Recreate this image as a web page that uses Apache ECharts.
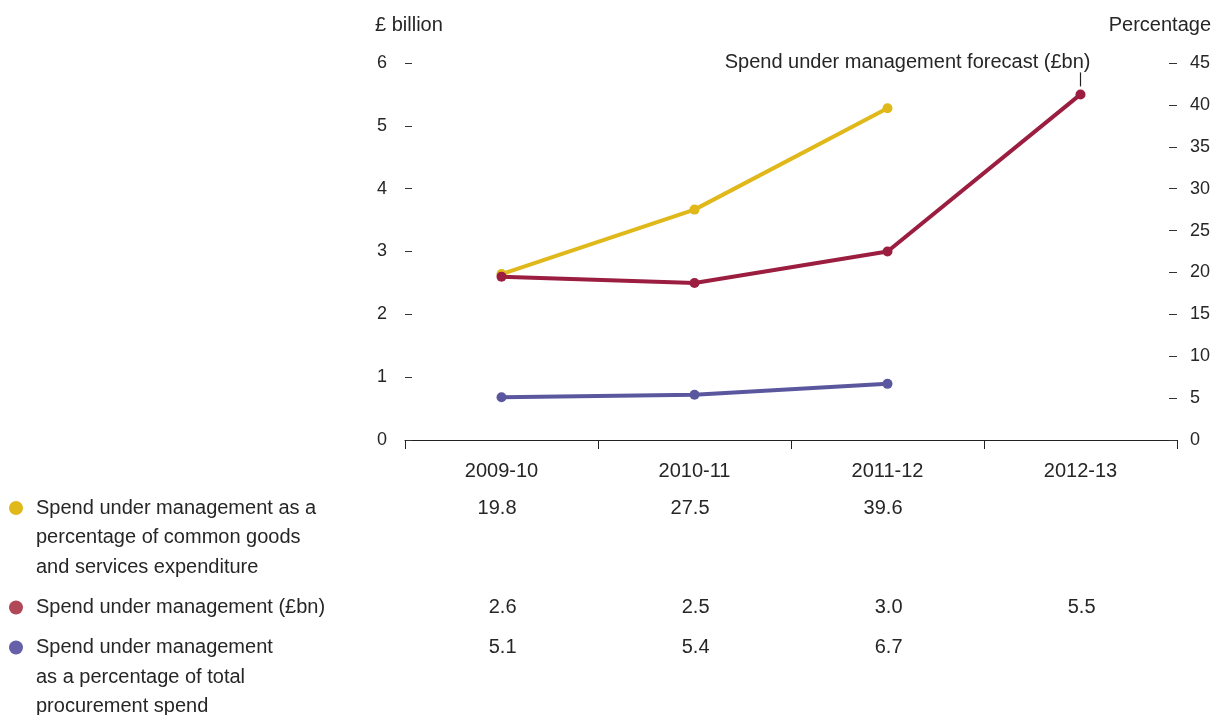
<!DOCTYPE html>
<html>
<head>
<meta charset="utf-8">
<script src="https://cdn.jsdelivr.net/npm/echarts@6/dist/echarts.min.js"></script>
<style>
  html, body { margin: 0; padding: 0; background: #fff; }
  #chart { width: 1214px; height: 715px; }
</style>
</head>
<body>
<div id="chart"></div>
<script>
// Financial years on the category axis
const categories = ['2009-10', '2010-11', '2011-12', '2012-13'];

// Spend under management as % of common goods and services expenditure (right axis)
const pctCommon = [19.8, 27.5, 39.6, null];
// Spend under management, £bn (left axis); 2012-13 is a forecast
const spendBn = [2.6, 2.5, 3.0, 5.5];
// Spend under management as % of total procurement spend (right axis)
const pctTotal = [5.1, 5.4, 6.7, null];

const leftTicks = [0, 1, 2, 3, 4, 5, 6];
const rightTicks = [0, 5, 10, 15, 20, 25, 30, 35, 40, 45];

const legendRows = [
  { lines: ['Spend under management as a', 'percentage of common goods', 'and services expenditure'], values: pctCommon, fmt: 1, dot: '#E0B81A' },
  { lines: ['Spend under management (£bn)'], values: spendBn, fmt: 1, dot: '#B04858' },
  { lines: ['Spend under management', 'as a percentage of total', 'procurement spend'], values: pctTotal, fmt: 1, dot: '#6560A8' }
];

const forecastNote = 'Spend under management forecast (£bn)';

const FONT = "'Liberation Sans', Arial, sans-serif";
const TXT = '#262626';

const chart = echarts.init(document.getElementById('chart'), null, { renderer: 'canvas' });

const option = {
  animation: false,
  backgroundColor: '#fff',
  grid: { left: 405, right: 37, top: 63, bottom: 275, containLabel: false },
  xAxis: {
    type: 'category',
    data: categories,
    boundaryGap: true,
    axisLine: { show: true, lineStyle: { color: '#222', width: 1 } },
    axisTick: { show: true, length: 9, lineStyle: { color: '#222' } },
    axisLabel: { color: TXT, fontFamily: FONT, fontSize: 20, margin: 21 },
    splitLine: { show: false }
  },
  yAxis: [
    {
      type: 'value', min: 0, max: leftTicks[leftTicks.length - 1], interval: 1,
      name: '£ billion', nameLocation: 'end', nameGap: 28,
      nameTextStyle: { color: TXT, fontFamily: FONT, fontSize: 20, align: 'left', padding: [0, 0, 0, -30] },
      axisLine: { show: false },
      axisTick: { show: true, inside: true, length: 7, lineStyle: { color: '#333' } },
      axisLabel: { color: TXT, fontFamily: FONT, fontSize: 18, margin: 18 },
      splitLine: { show: false }
    },
    {
      type: 'value', min: 0, max: rightTicks[rightTicks.length - 1], interval: 5,
      name: 'Percentage', nameLocation: 'end', nameGap: 28,
      nameTextStyle: { color: TXT, fontFamily: FONT, fontSize: 20, align: 'right', padding: [0, -34, 0, 0] },
      position: 'right',
      axisLine: { show: false },
      axisTick: { show: true, inside: true, length: 8, lineStyle: { color: '#333' } },
      axisLabel: { color: TXT, fontFamily: FONT, fontSize: 18, margin: 13 },
      splitLine: { show: false }
    }
  ],
  series: [
    {
      name: 'Spend under management as a percentage of common goods and services expenditure',
      type: 'line', yAxisIndex: 1, data: pctCommon,
      symbol: 'circle', symbolSize: 10,
      lineStyle: { color: '#E0B81A', width: 4 },
      itemStyle: { color: '#E0B81A' }
    },
    {
      name: 'Spend under management (£bn)',
      type: 'line', yAxisIndex: 0, data: spendBn,
      symbol: 'circle', symbolSize: 10,
      lineStyle: { color: '#9B1E40', width: 4 },
      itemStyle: { color: '#9B1E40' }
    },
    {
      name: 'Spend under management as a percentage of total procurement spend',
      type: 'line', yAxisIndex: 1, data: pctTotal,
      symbol: 'circle', symbolSize: 10,
      lineStyle: { color: '#5B579F', width: 4 },
      itemStyle: { color: '#5B579F' }
    }
  ]
};

chart.setOption(option);

// Legend block and value table under the axis, aligned with category centres
const graphics = [];
const lineH = 29.5;
let y = 508;
legendRows.forEach(row => {
  graphics.push({
    type: 'circle', shape: { cx: 16, cy: y, r: 7 }, style: { fill: row.dot }
  });
  row.lines.forEach((ln, i) => {
    graphics.push({
      type: 'text', x: 36, y: y + i * lineH,
      style: { text: ln, fill: TXT, font: '20px ' + FONT, textVerticalAlign: 'middle', textAlign: 'left' }
    });
  });
  row.values.forEach((v, i) => {
    if (v === null || v === undefined) return;
    const px = chart.convertToPixel({ xAxisIndex: 0 }, categories[i]);
    graphics.push({
      type: 'text', x: px + 15, y: y,
      style: { text: v.toFixed(row.fmt), fill: TXT, font: '20px ' + FONT, textVerticalAlign: 'middle', textAlign: 'right' }
    });
  });
  y += row.lines.length * lineH + (row.lines.length > 1 ? 11 : 10.5);
});

// Forecast note above the 2012-13 point
const last = spendBn.length - 1;
const pt = chart.convertToPixel({ xAxisIndex: 0, yAxisIndex: 0 }, [categories[last], spendBn[last]]);
graphics.push({
  type: 'line', shape: { x1: pt[0], y1: pt[1] - 22, x2: pt[0], y2: pt[1] - 8 },
  style: { stroke: '#222', lineWidth: 1.2 }
});
graphics.push({
  type: 'text', x: pt[0] + 10, y: pt[1] - 32,
  style: { text: forecastNote, fill: TXT, font: '20px ' + FONT, textVerticalAlign: 'middle', textAlign: 'right' }
});

chart.setOption({ graphic: graphics });
</script>
</body>
</html>
